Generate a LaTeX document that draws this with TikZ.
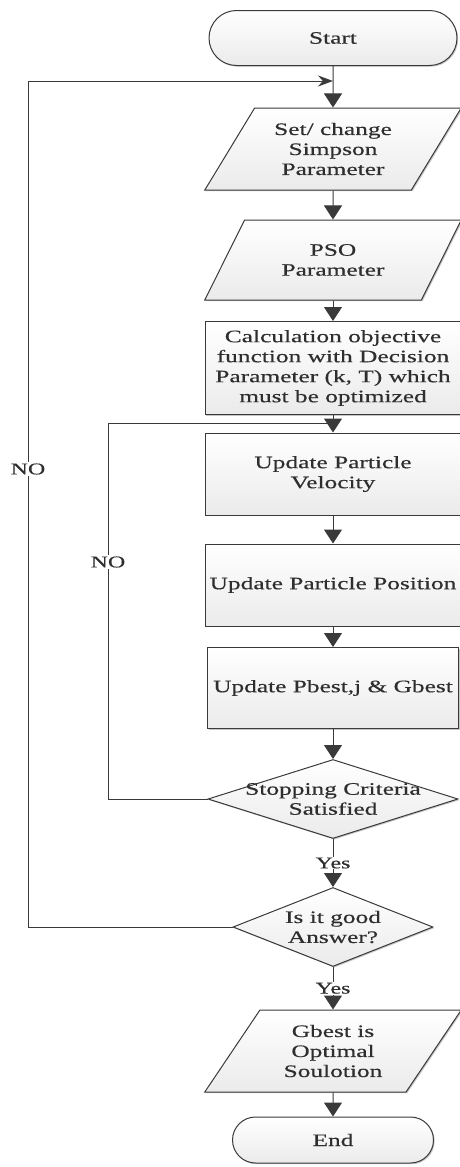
\documentclass[tikz,border=0pt]{standalone}
\usepackage{fontspec}
\setmainfont[FakeStretch=1.45, FakeBold=0.4]{Liberation Serif}
\usetikzlibrary{arrows.meta,shapes.geometric,shapes.misc,shadows}

\definecolor{linegray}{HTML}{3A3A3A}
\definecolor{textgray}{HTML}{2E2E2E}

\tikzset{
    box/.style = {draw=linegray, line width=1pt, top color=white, bottom color=gray!16,
                  text=textgray, align=center, inner sep=1pt,
                  font=\fontsize{17.5}{20}\selectfont,
                  drop shadow={shadow xshift=1.2pt, shadow yshift=-1.2pt, fill=black!45, opacity=0.5}},
    term/.style = {box, rounded rectangle, minimum width=250, minimum height=55},
    io/.style   = {box, trapezium, trapezium left angle=55, trapezium right angle=125,
                   trapezium stretches=true, minimum width=257, minimum height=82},
    proc/.style = {box, rectangle, minimum width=256, minimum height=82},
    dec/.style  = {box, diamond, inner sep=0pt, minimum width=250, minimum height=79},
    lbl/.style  = {fill=white, text=textgray, inner sep=1pt, font=\fontsize{16.5}{18}\selectfont},
    flow/.style = {draw=linegray, line width=1pt, -{Triangle[width=18pt,length=14pt]}}
}

\begin{document}
\begin{tikzpicture}[x=1pt, y=-1pt]
    \useasboundingbox (0,0) rectangle (459,1167);

    \begin{scope}
        \node[term] (Start) at (333,38)  {Start};
        \node[io]   (Simp)  at (333,149) {Set/ change\\Simpson\\Parameter};
        \node[io, minimum height=80] (Pso) at (333,260) {PSO\\Parameter};
        \node[proc, minimum height=93] (Calc) at (333,368)
            {Calculation objective\\function with Decision\\Parameter (k, T) which\\must be optimized};
        \node[proc] (Vel)   at (333,474) {Update Particle\\Velocity};
        \node[proc] (Pos)   at (333,585) {Update Particle Position};
        \node[proc, minimum width=251, minimum height=81] (Best) at (333,688) {Update Pbest,j \& Gbest};
        \node[dec, label={[align=center, text=textgray, font=\fontsize{17.5}{20}\selectfont]center:Stopping Criteria\\Satisfied}]
            (Stop)  at (333,799) {};
        \node[dec, minimum width=200, label={[align=center, text=textgray, font=\fontsize{17.5}{20}\selectfont]center:Is it good\\Answer?}]
            (Good)  at (333,927) {};
        \node[io]   (Opt)   at (333,1051) {Gbest is\\Optimal\\Soulotion};
        \node[term, minimum width=203, minimum height=46] (End) at (333,1140) {End};

        \coordinate (OutL) at (28,81);
        \coordinate (OutR) at (333,81);
        \coordinate (InL)  at (108,423);
        \coordinate (InR)  at (333,423);
    \end{scope}

    \begin{scope}[line width=1pt]
        \draw [flow] (Start) -- (Simp);
        \draw [flow] (Simp) -- (Pso);
        \draw [flow] (Pso) -- (Calc);
        \draw [flow] (Calc) -- (Vel);
        \draw [flow] (Vel) -- (Pos);
        \draw [flow] (Pos) -- (Best);
        \draw [flow] (Best) -- (Stop);
        \draw [flow] (Stop) -- node[lbl] {Yes} (Good);
        \draw [flow] (Good) -- node[lbl] {Yes} (Opt);
        \draw [flow] (Opt) -- (End);

        % loop back to the start
        \draw [draw=linegray, -{Stealth[width=11pt,length=15pt]}] (Good.west) -| (OutL) -- (OutR);
        \node[lbl] (No1) at (28,469) {NO};

        % inner loop of the swarm
        \draw [draw=linegray] (Stop.west) -| (InL) -- (InR);
        \node[lbl] (No2) at (108,562) {NO};
    \end{scope}
\end{tikzpicture}
\end{document}
